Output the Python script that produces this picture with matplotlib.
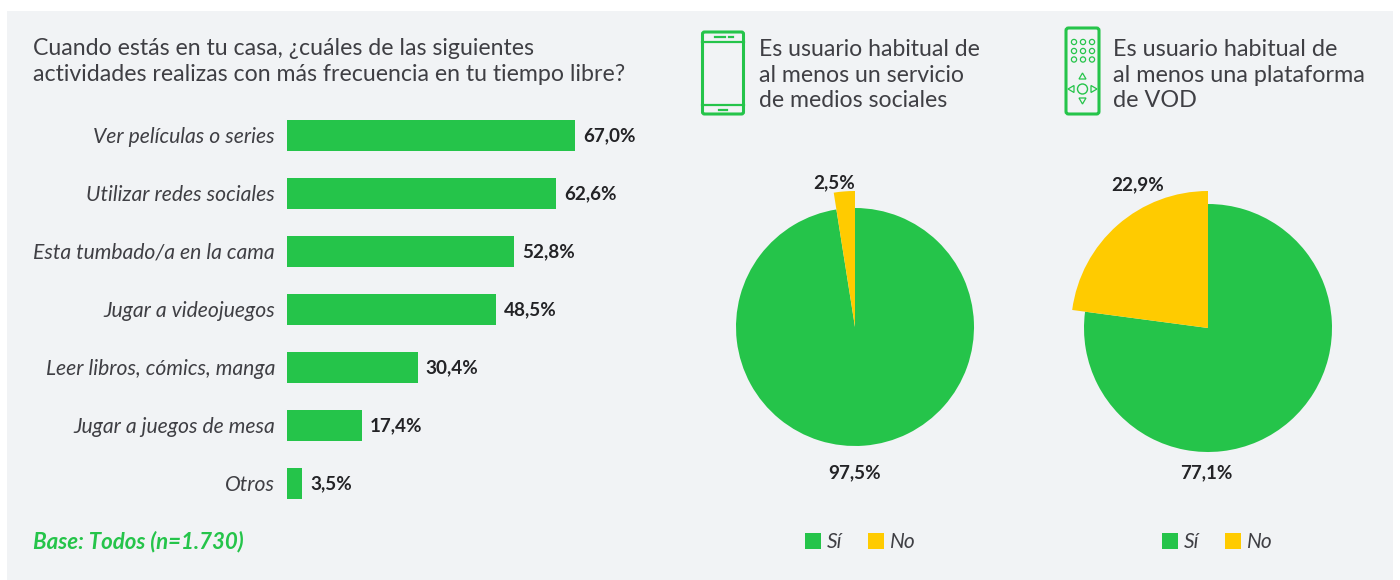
"""
Free time activities at home (bars) and two usage pies
"""
import matplotlib
matplotlib.use('Agg')
import matplotlib.pyplot as plt
from matplotlib.patches import Rectangle, FancyBboxPatch, Circle, Polygon

plt.rcParams['font.family'] = ['Lato', 'DejaVu Sans']

GREEN = '#25c44a'
YELLOW = '#ffcb00'
DARK = '#3f3f44'
BLACK = '#232326'
PANEL = '#f1f3f5'

activities = ['Ver películas o series', 'Utilizar redes sociales',
              'Esta tumbado/a en la cama', 'Jugar a videojuegos',
              'Leer libros, cómics, manga', 'Jugar a juegos de mesa', 'Otros']
shares = [67.0, 62.6, 52.8, 48.5, 30.4, 17.4, 3.5]
share_labels = ['67,0%', '62,6%', '52,8%', '48,5%', '30,4%', '17,4%', '3,5%']

social_vals = [97.5, 2.5]
vod_vals = [77.1, 22.9]
pie_names = ['Sí', 'No']

W, H = 1400, 580


def px_axes(fig, x0, y0, x1, y1):
    """ axes placed by pixel box, y measured from the top """
    return fig.add_axes([x0/W, 1 - y1/H, (x1 - x0)/W, (y1 - y0)/H])


def draw_pie(fig, cx, cy, r_green, r_yellow, vals):
    # yellow wedge sticks out, so it is a second pie with a larger radius
    ax = px_axes(fig, cx - r_yellow, cy - r_yellow, cx + r_yellow, cy + r_yellow)
    ax.pie(vals, colors=[GREEN, 'none'], radius=r_green/r_yellow,
           startangle=90, counterclock=False)
    ax.pie(vals, colors=['none', YELLOW], radius=1,
           startangle=90, counterclock=False)
    ax.set_xlim(-1, 1)
    ax.set_ylim(-1, 1)


def draw_legend(bg, x_green, x_yellow, y):
    for x, col, name in zip([x_green, x_yellow], [GREEN, YELLOW], pie_names):
        bg.add_patch(Rectangle((x, y - 8), 16, 16, color=col, lw=0))
        bg.text(x + 22, y + 2, name, fontsize=15, style='italic', color=DARK,
                va='center')


def draw_phone(bg):
    bg.add_patch(FancyBboxPatch((702.5, 32), 41, 82, boxstyle='round,pad=0,rounding_size=2',
                                fill=False, ec=GREEN, lw=2.2))
    for y in [41.5, 105]:
        bg.plot([702, 744], [y, y], color=GREEN, lw=1.6)
    bg.plot([715, 725], [36.5, 36.5], color=GREEN, lw=1.6)
    bg.plot([729, 733], [36.5, 36.5], color=GREEN, lw=1.6)
    bg.plot([719, 727], [110, 110], color=GREEN, lw=1.6)


def draw_remote(bg):
    bg.add_patch(FancyBboxPatch((1066, 28), 33, 86, boxstyle='round,pad=0,rounding_size=2.5',
                                fill=False, ec=GREEN, lw=2.2))
    for y in [42, 51, 59.5]:
        for x in [1074, 1083, 1092]:
            bg.add_patch(Circle((x, y), 2.6, fill=False, ec=GREEN, lw=0.9))
    bg.add_patch(Circle((1082.5, 89), 5, fill=False, ec=GREEN, lw=1.0))
    tris = [[(1079, 79), (1086, 79), (1082.5, 73)],
            [(1079, 98), (1086, 98), (1082.5, 104)],
            [(1074, 85.5), (1074, 92.5), (1068, 89)],
            [(1091, 85.5), (1091, 92.5), (1097, 89)]]
    for t in tris:
        bg.add_patch(Polygon(t, fill=False, ec=GREEN, lw=0.9))


fig = plt.figure(figsize=(W/100, H/100), dpi=100, facecolor='white')

# pixel canvas for panel, titles and icons
bg = fig.add_axes([0, 0, 1, 1])
bg.set_xlim(0, W)
bg.set_ylim(H, 0)
bg.axis('off')
bg.add_patch(Rectangle((7, 11), 1386, 569, color=PANEL, lw=0))

bg.text(33, 55, 'Cuando estás en tu casa, ¿cuáles de las siguientes', fontsize=16.7, color=DARK, va='baseline')
bg.text(33, 81, 'actividades realizas con más frecuencia en tu tiempo libre?', fontsize=16.7, color=DARK, va='baseline')
for y, line in zip([56, 82, 107], ['Es usuario habitual de', 'al menos un servicio', 'de medios sociales']):
    bg.text(759, y, line, fontsize=16.6, color=DARK, va='baseline')
for y, line in zip([56, 82, 107], ['Es usuario habitual de', 'al menos una plataforma', 'de VOD']):
    bg.text(1113, y, line, fontsize=16.8, color=DARK, va='baseline')

draw_phone(bg)
draw_remote(bg)

bg.text(33, 542, 'Base: Todos (n=1.730)', fontsize=16, weight='bold', style='italic',
        color=GREEN, va='center')

# bars: 4.3 px per percentage point
ax = px_axes(fig, 287, 106.5, 717, 512.5)
ax.patch.set_alpha(0)
pos = list(range(len(activities)))
ax.barh(pos, shares, height=0.534, color=GREEN)
ax.set_xlim(0, 100)
ax.set_ylim(6.5, -0.5)
ax.axis('off')
for i, name in enumerate(activities):
    ax.annotate(name, (0, i), xytext=(-12*0.72, -1), textcoords='offset points', ha='right',
                va='center', fontsize=15.25, style='italic', color=DARK)
    ax.annotate(share_labels[i], (shares[i], i), xytext=(8*0.72, -0.5), textcoords='offset points',
                va='center', fontsize=13.6, weight='bold', color=BLACK)

draw_pie(fig, 855, 327, 119, 136, social_vals)
draw_pie(fig, 1208, 328, 124, 137, vod_vals)

bg.text(834, 183, '2,5%', fontsize=13.6, weight='bold', color=BLACK, ha='center', va='center')
bg.text(855, 473, '97,5%', fontsize=13.6, weight='bold', color=BLACK, ha='center', va='center')
bg.text(1138, 185, '22,9%', fontsize=13.6, weight='bold', color=BLACK, ha='center', va='center')
bg.text(1206, 473, '77,1%', fontsize=13.6, weight='bold', color=BLACK, ha='center', va='center')

draw_legend(bg, 805, 868, 540.5)
draw_legend(bg, 1162, 1225, 540.5)

fig.savefig('out.png', dpi=100, facecolor='white')
